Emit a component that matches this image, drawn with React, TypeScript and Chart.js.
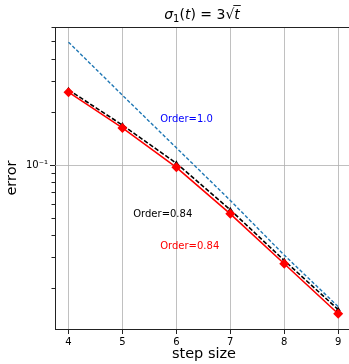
import React, { useEffect, useRef } from "react";
import { Chart, registerables } from "chart.js";

Chart.register(...registerables);

const steps = [4, 5, 6, 7, 8, 9];
const redErr = [0.258, 0.162, 0.097, 0.0529, 0.0276, 0.0144];
const blackErr = [0.266, 0.168, 0.1022, 0.0557, 0.0288, 0.0152];
const blueErr = [0.495, 0.248, 0.125, 0.063, 0.0309, 0.0158];
const xTicks = [4, 5, 6, 7, 8, 9];
const yMajor = [0.1];
const annotations = [
  { x: 5.7, y: 0.182, text: "Order=1.0", color: "#0000ff" },
  { x: 5.2, y: 0.0528, text: "Order=0.84", color: "#000000" },
  { x: 5.7, y: 0.0345, text: "Order=0.84", color: "#ff0000" },
];

const FONT = "'DejaVu Sans', sans-serif";

function isDecadeMultiple(v: number) {
  const e = Math.floor(Math.log10(v) + 1e-9);
  const m = v / Math.pow(10, e);
  return Math.abs(m - Math.round(m)) < 1e-6;
}

const extrasPlugin = {
  id: "extras",
  beforeDatasetsDraw(chart: any) {
    const { ctx, chartArea, scales } = chart;
    ctx.save();
    ctx.strokeStyle = "#b0b0b0";
    ctx.lineWidth = 0.8;
    ctx.beginPath();
    for (const v of yMajor) {
      const py = Math.round(scales.y.getPixelForValue(v)) + 0.5;
      ctx.moveTo(chartArea.left, py);
      ctx.lineTo(chartArea.right, py);
    }
    ctx.stroke();
    ctx.restore();
  },
  afterDraw(chart: any) {
    const { ctx, chartArea, scales } = chart;
    const x = scales.x;
    const y = scales.y;
    ctx.save();
    // top spine
    ctx.strokeStyle = "#222";
    ctx.lineWidth = 1;
    ctx.beginPath();
    ctx.moveTo(chartArea.left, chartArea.top + 0.5);
    ctx.lineTo(chartArea.right, chartArea.top + 0.5);
    ctx.stroke();
    // x tick marks
    ctx.beginPath();
    for (const t of x.ticks) {
      const px = Math.round(x.getPixelForValue(t.value)) + 0.5;
      ctx.moveTo(px, chartArea.bottom);
      ctx.lineTo(px, chartArea.bottom + 5);
    }
    ctx.stroke();
    // y tick marks
    ctx.beginPath();
    for (const t of y.ticks) {
      const py = Math.round(y.getPixelForValue(t.value)) + 0.5;
      const major = Math.abs(Math.log10(t.value) - Math.round(Math.log10(t.value))) < 1e-6;
      ctx.moveTo(chartArea.left, py);
      ctx.lineTo(chartArea.left - (major ? 5 : 3.5), py);
    }
    ctx.stroke();
    // annotations
    ctx.font = `10px ${FONT}`;
    ctx.textAlign = "left";
    ctx.textBaseline = "middle";
    for (const a of annotations) {
      ctx.fillStyle = a.color;
      ctx.fillText(a.text, x.getPixelForValue(a.x), y.getPixelForValue(a.y));
    }
    // title: σ1(t) = 3√t
    const cx = 202;
    const base = 19;
    const parts: { t: string; f: string; dy: number }[] = [
      { t: "σ", f: `italic 14px ${FONT}`, dy: 0 },
      { t: "1", f: `10px ${FONT}`, dy: 3 },
      { t: "(", f: `14px ${FONT}`, dy: 0 },
      { t: "t", f: `italic 14px ${FONT}`, dy: 0 },
      { t: ") = 3", f: `14px ${FONT}`, dy: 0 },
      { t: "√", f: `14px ${FONT}`, dy: 0 },
      { t: "t", f: `italic 14px ${FONT}`, dy: 0 },
    ];
    let total = 0;
    const widths: number[] = [];
    for (const p of parts) {
      ctx.font = p.f;
      const w = ctx.measureText(p.t).width;
      widths.push(w);
      total += w;
    }
    let px = cx - total / 2;
    ctx.fillStyle = "#000";
    ctx.textBaseline = "alphabetic";
    let sqrtEnd = 0;
    parts.forEach((p, i) => {
      ctx.font = p.f;
      ctx.fillText(p.t, px, base + p.dy);
      px += widths[i];
      if (i === 5) sqrtEnd = px;
    });
    ctx.lineWidth = 1;
    ctx.beginPath();
    ctx.moveTo(sqrtEnd - 1, base - 13.5);
    ctx.lineTo(px + 1, base - 13.5);
    ctx.stroke();
    ctx.restore();
  },
};

export default function App() {
  const ref = useRef<HTMLCanvasElement | null>(null);
  useEffect(() => {
    document.body.style.margin = "0";
    document.body.style.overflow = "hidden";
    document.documentElement.style.overflow = "hidden";
    const canvas = ref.current!;
    const chart = new Chart(canvas, {
      type: "line",
      data: {
        datasets: [
          {
            label: "red",
            data: steps.map((s, i) => ({ x: s, y: redErr[i] })),
            borderColor: "#ff0000",
            backgroundColor: "#ff0000",
            borderWidth: 1.6,
            pointStyle: "rectRot",
            pointRadius: 5,
            pointBorderWidth: 0,
            order: 0,
          },
          {
            label: "black",
            data: steps.map((s, i) => ({ x: s, y: blackErr[i] })),
            borderColor: "#000000",
            backgroundColor: "#000000",
            borderWidth: 1.6,
            borderDash: [4.5, 2],
            pointStyle: "triangle",
            pointRadius: 3,
            pointBorderWidth: 0,
            order: 1,
          },
          {
            label: "blue",
            data: steps.map((s, i) => ({ x: s, y: blueErr[i] })),
            borderColor: "#1f77b4",
            backgroundColor: "#1f77b4",
            borderWidth: 1.4,
            borderDash: [3.5, 2],
            pointRadius: 0,
            order: 2,
          },
        ],
      },
      options: {
        animation: false,
        responsive: false,
        maintainAspectRatio: false,
        layout: { autoPadding: false, padding: { top: 27, right: 0, left: 0, bottom: 0 } },
        plugins: { legend: { display: false }, tooltip: { enabled: false }, title: { display: false } },
        elements: { line: { tension: 0 } },
        scales: {
          x: {
            type: "linear",
            min: 3.75,
            max: 9.275,
            afterBuildTicks: (s: any) => {
              s.ticks = xTicks.map((v) => ({ value: v }));
            },
            afterFit: (s: any) => {
              s.height = 35;
              s.paddingLeft = 0;
              s.paddingRight = 0;
            },
            grid: { color: "#b0b0b0", lineWidth: 0.8, drawTicks: false },
            border: { color: "#222", width: 1 },
            ticks: {
              padding: 7,
              color: "#000",
              font: { family: FONT, size: 10 },
              maxRotation: 0,
              autoSkip: false,
              callback: (v: any) => String(v),
            },
            title: {
              display: true,
              text: "step size",
              color: "#000",
              font: { family: FONT, size: 14.5 },
              padding: { top: 0, bottom: 1 },
            },
          },
          y: {
            type: "logarithmic",
            min: 0.0118,
            max: 0.603,
            afterBuildTicks: (s: any) => {
              s.ticks = s.ticks.filter(
                (t: any) => t.value >= 0.0118 && t.value <= 0.603 && isDecadeMultiple(t.value)
              );
            },
            afterFit: (s: any) => {
              s.width = 55;
              s.paddingTop = 0;
              s.paddingBottom = 0;
            },
            grid: { display: false, drawTicks: false },
            border: { color: "#222", width: 1 },
            ticks: {
              padding: 7,
              color: "#000",
              font: { family: FONT, size: 10 },
              autoSkip: false,
              callback: (v: any) => (Math.abs(Number(v) - 0.1) < 1e-9 ? "10⁻¹" : ""),
            },
            title: {
              display: true,
              text: "error",
              color: "#000",
              font: { family: FONT, size: 14.5 },
              padding: { top: 4, bottom: 0 },
            },
          },
        },
      },
      plugins: [extrasPlugin],
    } as any);
    return () => chart.destroy();
  }, []);
  return (
    <div style={{ width: 349, height: 364, overflow: "hidden" }}>
      <canvas ref={ref} width={353} height={364} style={{ display: "block" }} />
    </div>
  );
}
